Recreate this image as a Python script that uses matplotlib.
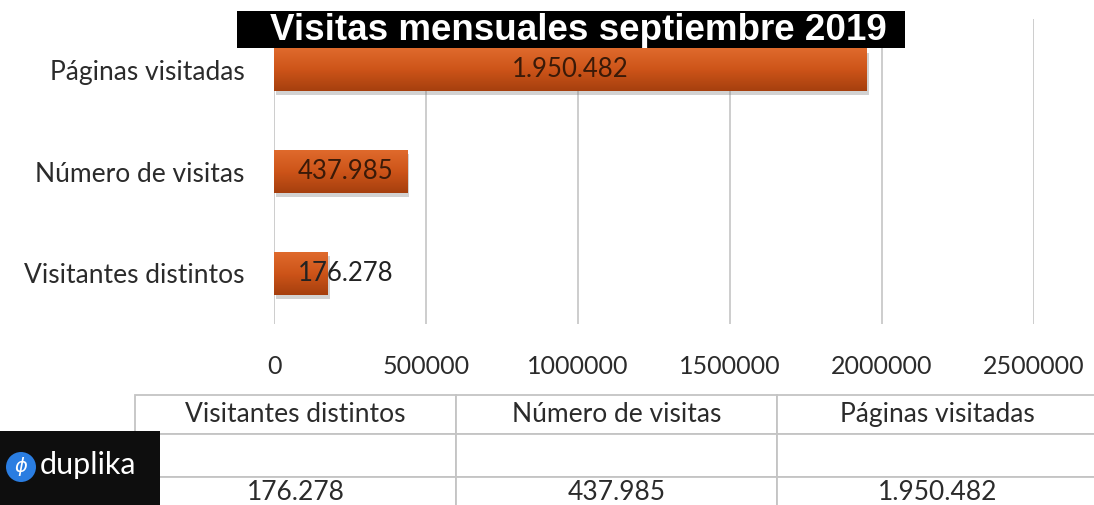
import matplotlib
matplotlib.use("Agg")
import matplotlib.pyplot as plt
import numpy as np
from matplotlib import patheffects
from matplotlib.colors import LinearSegmentedColormap
from matplotlib.patches import Rectangle, Ellipse

# data
categories = ["Visitantes distintos", "Número de visitas", "Páginas visitadas"]
values = [176278, 437985, 1950482]
value_labels = ["176.278", "437.985", "1.950.482"]
x_ticks = [0, 500000, 1000000, 1500000, 2000000, 2500000]
title = "Visitas mensuales septiembre 2019"

W, H = 1094, 505
fig = plt.figure(figsize=(W / 100, H / 100), dpi=100)
fig.patch.set_facecolor("white")

FONT = ["Lato", "DejaVu Sans"]
TXT = "#2b2b2b"


def fx(px):
    return px / W


def fy(py):
    return 1 - py / H


# main bar chart
ax = fig.add_axes([fx(274), fy(324), fx(1034) - fx(274), fy(19) - fy(324)])
y = np.arange(len(categories))
bars = ax.barh(y, values, height=0.42, color="#cf5a1c", zorder=3)

grad = LinearSegmentedColormap.from_list("bar", ["#a63f0e", "#cd5419", "#df6a2c"])
for b in bars:
    b.set_path_effects([
        patheffects.SimplePatchShadow(offset=(1.5, -3), shadow_rgbFace="#808080", alpha=0.35),
        patheffects.Normal(),
    ])
    x0, y0 = b.get_x(), b.get_y()
    w, h = b.get_width(), b.get_height()
    img = ax.imshow(np.linspace(0, 1, 64).reshape(-1, 1), cmap=grad,
                    extent=[x0, x0 + w, y0, y0 + h], origin="lower",
                    aspect="auto", zorder=4)
    img.set_clip_path(b)

for yi, v, lab in zip(y, values, value_labels):
    ax.text(max(v / 2, 235000), yi, lab, ha="center", va="center",
            fontsize=18.5, color="#3a1a08" if v > 300000 else "#222222",
            family=FONT, zorder=6)

ax.set_xlim(0, 2500000)
ax.set_ylim(-0.5, 2.5)
ax.set_xticks(x_ticks)
ax.set_xticklabels([str(t) for t in x_ticks], fontsize=18, color=TXT, family=FONT)
ax.set_yticks(y)
ax.set_yticklabels(categories, fontsize=19, color=TXT, family=FONT)
ax.tick_params(axis="x", length=0, pad=22)
ax.tick_params(axis="y", length=0, pad=21)
ax.grid(axis="x", color="#c9c9c9", linewidth=1.3, zorder=0)
for s in ax.spines.values():
    s.set_visible(False)
ax.set_axisbelow(True)

# title box
fig.patches.append(Rectangle((fx(237), fy(48)), fx(905) - fx(237), fy(11) - fy(48),
                             transform=fig.transFigure, facecolor="black",
                             edgecolor="none", zorder=10))
fig.text(fx(578), fy(30), title, ha="center", va="center", color="white",
         fontsize=26.5, fontweight="bold", family=["Liberation Sans", "DejaVu Sans"],
         zorder=11)

# data table below (header, empty row, values; bottom row runs off the image)
tax = fig.add_axes([fx(135), fy(507), fx(1098) - fx(135), fy(395) - fy(507)])
tax.set_axis_off()
cell_text = [categories, ["", "", ""], value_labels]
table = tax.table(cellText=cell_text, cellLoc="center", bbox=[0, 0, 1, 1])
table.auto_set_font_size(False)
row_px = {0: 39, 1: 43, 2: 30}
for (r, c), cell in table.get_celld().items():
    cell.set_edgecolor("#c4c4c4")
    cell.set_linewidth(1.3)
    cell.set_height(row_px[r] / 112)
    cell.set_text_props(fontsize=19, color=TXT, family=FONT)

# duplika logo
fig.patches.append(Rectangle((0, fy(505)), fx(160), fy(431) - fy(505),
                             transform=fig.transFigure, facecolor="#0e0e0e",
                             edgecolor="none", zorder=10))
fig.patches.append(Ellipse((fx(21), fy(467)), 30 / W, 30 / H, transform=fig.transFigure,
                           facecolor="#2a7de1", edgecolor="none", zorder=11))
fig.text(fx(21), fy(467), "ϕ", ha="center", va="center", color="white",
         fontsize=14, style="italic", zorder=12)
fig.text(fx(40), fy(465), "duplika", ha="left", va="center", color="white",
         fontsize=22, family=FONT, zorder=12)

fig.savefig("out.png", dpi=100)
